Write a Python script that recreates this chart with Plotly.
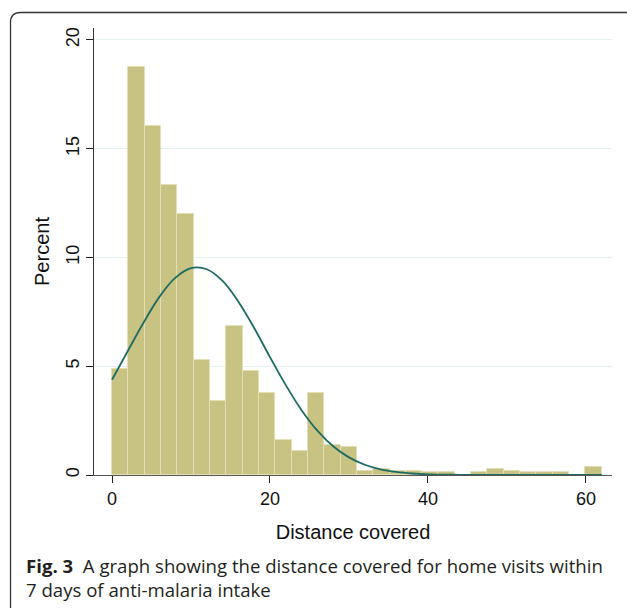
import plotly.graph_objects as go

# ---- data ----
bin_start = 0.0
bin_end = 62.0
percent = [4.86, 18.74, 16.06, 13.32, 11.99, 5.29, 3.38, 6.87, 4.80, 3.79,
           1.61, 1.10, 3.79, 1.38, 1.27, 0.18, 0.26, 0.18, 0.18, 0.12,
           0.12, 0.0, 0.12, 0.28, 0.20, 0.12, 0.12, 0.12, 0.0, 0.35]
curve_x = [0, 2, 4, 6, 8, 10, 12, 14, 16, 18, 20, 22, 24, 26, 28, 30,
           32, 34, 36, 38, 40, 44, 50, 56, 62]
curve_y = [4.38, 5.70, 7.01, 8.19, 9.06, 9.51, 9.46, 8.92, 7.97, 6.76, 5.42,
           4.13, 2.98, 2.04, 1.32, 0.81, 0.47, 0.26, 0.14, 0.07, 0.03, 0.01,
           0.0, 0.0, 0.0]
x_ticks = [0, 20, 40, 60]
y_ticks = [0, 5, 10, 15, 20]

n_bins = len(percent)
bw = (bin_end - bin_start) / n_bins
centers = [bin_start + bw * (i + 0.5) for i in range(n_bins)]

W, H = 627, 608
L, R, T, B = 94, 612, 28, 475

fig = go.Figure()
fig.add_trace(go.Bar(
    x=centers, y=percent, width=bw,
    marker=dict(color="#c9c383", line=dict(color="#e2dfb4", width=1)),
    hoverinfo="x+y", showlegend=False,
))
fig.add_trace(go.Scatter(
    x=curve_x, y=curve_y, mode="lines", line=dict(color="#1e6b62", width=1.8, shape="spline"),
    showlegend=False,
))

axis_font = dict(family="Liberation Sans, Arial, sans-serif", size=18, color="#111")


def px(xp):
    return (xp - L) / (R - L)


def py(yp):
    return (B - yp) / (B - T)


# rounded outer frame
r = 10
frame = (f"M {px(10.5)},{py(620)} L {px(10.5)},{py(12.5 + r)} "
         f"Q {px(10.5)},{py(12.5)} {px(10.5 + r)},{py(12.5)} L {px(640)},{py(12.5)}")

fig.update_layout(
    width=W, height=H,
    margin=dict(l=L, r=W - R, t=T, b=H - B, pad=0),
    plot_bgcolor="white", paper_bgcolor="white",
    bargap=0,
    xaxis=dict(
        range=[-2.28, 63.3], tickvals=x_ticks, ticks="outside", ticklen=7,
        tickcolor="#222", showline=True, linecolor="#555", linewidth=1.2,
        showgrid=False, zeroline=False, tickfont=axis_font, automargin=False,
        title=dict(text="Distance covered", font=dict(family=axis_font["family"], size=20, color="#111"), standoff=17),
    ),
    yaxis=dict(
        range=[0, 20.55], tickvals=y_ticks, ticks="outside", ticklen=7,
        tickcolor="#222", showline=True, linecolor="#333", linewidth=1.2,
        showgrid=True, gridcolor="#e6eff1", gridwidth=1, zeroline=False,
        tickangle=-90, tickfont=axis_font, automargin=False,
        title=dict(text="Percent", font=dict(family=axis_font["family"], size=20, color="#111"), standoff=7),
    ),
    shapes=[dict(type="path", path=frame, xref="paper", yref="paper",
                 line=dict(color="#333", width=1.3), layer="above")],
    annotations=[
        dict(text="<b>Fig. 3</b>  A graph showing the distance covered for home visits within<br>7 days of anti-malaria intake",
             xref="paper", yref="paper", x=px(24), y=py(551), xanchor="left", yanchor="top",
             align="left", showarrow=False,
             font=dict(family="Open Sans, Noto Sans, sans-serif", size=18.6, color="#231f20")),
    ],
)

fig.write_html("out.html", config={"displayModeBar": False},
               post_script="document.body.style.margin='0';")
